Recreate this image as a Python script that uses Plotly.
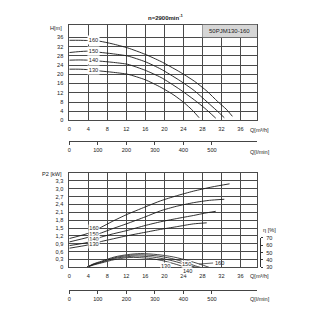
import plotly.graph_objects as go

# ---------------- data ----------------
impellers = ["160", "150", "140", "130"]

# H(Q) curves  (Q in m3/h, H in m)
h_q = {
    "160": [0, 2, 4, 6.4, 9, 12.3, 16, 19.3, 23, 26.3, 29, 31.2, 33, 34.3],
    "150": [0, 2, 4, 6.4, 9, 12.3, 16, 19.3, 23, 26.3, 29, 31, 32.6],
    "140": [0, 2, 4, 6.4, 9, 12.3, 16, 19.3, 23, 26.3, 28.5, 30.8],
    "130": [0, 2, 4, 6.6, 9, 12.3, 16, 19.3, 22, 24.2, 26, 27.3],
}
h_val = {
    "160": [34.7, 34.7, 34.6, 34.3, 33.2, 31.4, 28.6, 25.5, 21.3, 17.0, 12.6, 8.2, 4.9, 1.8],
    "150": [29.4, 29.8, 30.0, 29.5, 28.9, 27.9, 25.4, 22.2, 17.6, 12.9, 8.0, 4.3, 1.2],
    "140": [26.1, 26.2, 26.1, 25.7, 25.2, 24.3, 21.7, 18.6, 13.8, 8.9, 5.3, 1.0],
    "130": [22.2, 22.2, 22.0, 21.4, 20.9, 20.0, 17.6, 14.3, 11.0, 7.6, 4.2, 1.2],
}

# P2(Q) curves (kW)
p_q = {
    "160": [0, 3.8, 6.8, 9, 12, 16, 19.2, 22.5, 26.1, 30, 33.7],
    "150": [0, 3.8, 6.8, 9, 12, 16, 19.2, 22.5, 26.1, 29.5, 32.6],
    "140": [0, 3.8, 6.8, 9, 12, 16, 19.2, 22.5, 26.1, 28.5, 30.8],
    "130": [0, 3.8, 6.8, 9, 12, 16, 19.2, 22.5, 26.1, 28.9],
}
p_val = {
    "160": [1.10, 1.29, 1.54, 1.75, 2.01, 2.31, 2.54, 2.73, 2.91, 3.07, 3.19],
    "150": [0.97, 1.14, 1.32, 1.47, 1.66, 1.93, 2.16, 2.33, 2.47, 2.56, 2.60],
    "140": [0.83, 0.95, 1.16, 1.27, 1.40, 1.60, 1.74, 1.86, 1.98, 2.07, 2.14],
    "130": [0.73, 0.85, 0.99, 1.08, 1.20, 1.34, 1.45, 1.55, 1.66, 1.70],
}

# efficiency curves (%)
e_q = {
    "160": [3.7, 5, 6.8, 9.5, 12.3, 15, 18.5, 21.9, 25.4, 28.2, 29.6],
    "150": [3.7, 5, 6.8, 9.5, 12.3, 14.5, 18, 21.5, 24.5, 26.5, 27.8],
    "140": [3.7, 5, 6.8, 9.5, 12.3, 14, 17.5, 21, 24, 25.8, 27],
    "130": [3.7, 5, 6.8, 9.5, 12, 13.5, 17, 20, 22.5, 24, 25],
}
e_val = {
    "160": [30, 34.5, 38.4, 44.1, 47.3, 48.7, 47.3, 44.1, 38.4, 32.7, 29.5],
    "150": [30, 34, 37.5, 43, 46, 47, 45.8, 42, 36.5, 32, 29.5],
    "140": [30, 33.5, 36.8, 42, 44.5, 45.3, 44, 40, 34.8, 31.5, 29.5],
    "130": [30, 33, 36, 40.5, 43, 43.5, 42, 38.5, 34, 31, 29.5],
}

q_ticks = [0, 4, 8, 12, 16, 20, 24, 28, 32, 36]
h_ticks = [0, 4, 8, 12, 16, 20, 24, 28, 32, 36]
p_ticks = [0, 0.3, 0.6, 0.9, 1.2, 1.5, 1.8, 2.1, 2.4, 2.7, 3.0, 3.3]
p_ticktext = ["0", "0,3", "0,6", "0,9", "1,2", "1,5", "1,8", "2,1", "2,4", "2,7", "3,0", "3,3"]
lmin_ticks = [0, 100, 200, 300, 400, 500]
eta_ticks = [30, 40, 50, 60, 70]

# label positions
h_lab_pos = {"160": (5.0, 34.7), "150": (5.0, 30.0), "140": (5.0, 26.1), "130": (5.1, 21.9)}
p_lab_pos = {"160": (5.2, 1.50), "150": (5.2, 1.26), "140": (5.2, 1.05), "130": (5.2, 0.86)}
e_lab_px = {"130": (165, 268.0), "150": (186.0, 266.3), "140": (186.5, 273.3)}

Q_MAX = 39.5
H_MAX = 41.5
P_MIN, P_MAX = 0.0, 3.6
ETA_PER_KW = 35.55
E_MIN = 30 + P_MIN * ETA_PER_KW
E_MAX = 30 + P_MAX * ETA_PER_KW

W = H = 325
def px(v):
    return v / W
def py(v):
    return 1 - v / H

XDOM = [px(67.7), px(256.7)]
TOP_DOM = [py(119.7), py(22.0)]
BOT_DOM = [py(269.3), py(173.3)]

FONT = "Liberation Sans, Arial, sans-serif"
FS = 5.6
GRID = "#4a4a4a"
CURVE = "#1a1a1a"
TXT = "#222"

fig = go.Figure()

for k in impellers:
    fig.add_trace(go.Scatter(x=h_q[k], y=h_val[k], mode="lines", line=dict(color=CURVE, width=0.9, shape="spline", smoothing=0.6),
                             xaxis="x", yaxis="y", showlegend=False, hoverinfo="skip"))
    fig.add_trace(go.Scatter(x=p_q[k], y=p_val[k], mode="lines", line=dict(color=CURVE, width=0.9, shape="spline", smoothing=0.6),
                             xaxis="x2", yaxis="y2", showlegend=False, hoverinfo="skip"))
for k in impellers:
    fig.add_trace(go.Scatter(x=e_q[k], y=e_val[k], mode="lines", line=dict(color=CURVE, width=0.8, shape="spline", smoothing=0.8),
                             xaxis="x2", yaxis="y3", showlegend=False, hoverinfo="skip"))

# invisible traces to carry the auxiliary axes
lmin_max = Q_MAX * 1000 / 60
fig.add_trace(go.Scatter(x=[0, lmin_max], y=[0, 0], mode="markers", marker=dict(opacity=0), xaxis="x3", yaxis="y",
                         showlegend=False, hoverinfo="skip"))
fig.add_trace(go.Scatter(x=[0, lmin_max], y=[0, 0], mode="markers", marker=dict(opacity=0), xaxis="x4", yaxis="y2",
                         showlegend=False, hoverinfo="skip"))
fig.add_trace(go.Scatter(x=[1, 1], y=[eta_ticks[0], eta_ticks[-1]], mode="markers", marker=dict(opacity=0), xaxis="x2", yaxis="y4",
                         showlegend=False, hoverinfo="skip"))

tickfont = dict(family=FONT, size=FS, color=TXT)
common_x = dict(range=[0, Q_MAX], domain=XDOM, tickvals=q_ticks, showgrid=True, gridcolor=GRID, gridwidth=0.8,
                showline=True, linecolor=GRID, linewidth=0.8, mirror=True, zeroline=False, ticks="",
                tickfont=tickfont, ticklabelstandoff=3)
common_y = dict(showgrid=True, gridcolor=GRID, gridwidth=0.8, showline=True, linecolor=GRID, linewidth=0.8,
                mirror=True, zeroline=False, ticks="", tickfont=tickfont, ticklabelstandoff=4)

fig.update_layout(
    width=W, height=H, margin=dict(l=0, r=0, t=0, b=0),
    paper_bgcolor="white", plot_bgcolor="rgba(0,0,0,0)",
    font=dict(family=FONT, size=FS, color=TXT),
    xaxis=dict(common_x, anchor="y"),
    yaxis=dict(common_y, domain=TOP_DOM, range=[0, H_MAX], tickvals=h_ticks, anchor="x"),
    xaxis2=dict(common_x, anchor="y2"),
    yaxis2=dict(common_y, domain=BOT_DOM, range=[P_MIN, P_MAX], tickvals=p_ticks, ticktext=p_ticktext, anchor="x2"),
    yaxis3=dict(overlaying="y2", anchor="x2", side="right", range=[E_MIN, E_MAX], showticklabels=False,
                showgrid=False, showline=False, zeroline=False, ticks=""),
    yaxis4=dict(domain=[py(269.3), py(239.3)], range=[eta_ticks[0], eta_ticks[-1]], anchor="free", position=px(259.3),
                side="right", tickvals=eta_ticks, ticks="outside", ticklen=2.5, tickcolor="#333", tickwidth=0.8,
                showline=True, linecolor="#333", linewidth=0.8, showgrid=False, zeroline=False,
                tickfont=tickfont, ticklabelstandoff=2),
    xaxis3=dict(overlaying="x", range=[0, lmin_max], anchor="free", position=py(140.7), tickvals=lmin_ticks,
                ticks="outside", ticklen=3, tickcolor="#444", tickwidth=0.8, showline=True, linecolor="#444",
                linewidth=0.8, showgrid=False, zeroline=False, tickfont=tickfont, side="bottom"),
    xaxis4=dict(overlaying="x2", range=[0, lmin_max], anchor="free", position=py(292.3), tickvals=lmin_ticks,
                ticks="outside", ticklen=3, tickcolor="#444", tickwidth=0.8, showline=True, linecolor="#444",
                linewidth=0.8, showgrid=False, zeroline=False, tickfont=tickfont, side="bottom"),
)

# gray model box
fig.add_shape(type="rect", xref="x", yref="y", x0=28, x1=Q_MAX, y0=36, y1=H_MAX,
              fillcolor="#d6d6d6", line=dict(width=0), layer="above")

ann = []
ann.append(dict(text="<b>n=2900min<sup>-1</sup></b>", x=px(165), y=py(14), xref="paper", yref="paper",
                xanchor="center", yanchor="middle", showarrow=False, font=dict(family=FONT, size=6, color=TXT)))
ann.append(dict(text="50PJM130-160", x=(28 + Q_MAX) / 2, y=(36 + H_MAX) / 2, xref="x", yref="y",
                xanchor="center", yanchor="middle", showarrow=False, font=dict(family=FONT, size=6, color=TXT)))
axis_titles = [("H[m]", 62, 25, "right"), ("P2 [kW]", 62, 174, "right"),
               ("Q[m³/h]", 247.5, 129, "left"), ("Q[l/min]", 247.5, 152.3, "left"),
               ("Q[m³/h]", 247.5, 278, "left"), ("Q[l/min]", 247.5, 301.3, "left"),
               ("η [%]", 260.5, 231, "left")]
for t, xx, yy, anc in axis_titles:
    ann.append(dict(text=t, x=px(xx), y=py(yy), xref="paper", yref="paper", xanchor=anc, yanchor="middle",
                    showarrow=False, font=dict(family=FONT, size=FS, color=TXT)))
for k in impellers:
    qx, hy = h_lab_pos[k]
    ann.append(dict(text=k, x=qx, y=hy, xref="x", yref="y", showarrow=False, bgcolor="white", borderpad=0.8,
                    xanchor="center", yanchor="middle", font=dict(family=FONT, size=FS, color=TXT)))
    qx, pv = p_lab_pos[k]
    ann.append(dict(text=k, x=qx, y=pv, xref="x2", yref="y2", showarrow=False, bgcolor="white", borderpad=0.3,
                    xanchor="center", yanchor="middle", font=dict(family=FONT, size=FS, color=TXT)))
for k, (xx, yy) in e_lab_px.items():
    ann.append(dict(text=k, x=px(xx), y=py(yy), xref="paper", yref="paper", showarrow=False,
                    bgcolor="white", borderpad=0,
                    xanchor="center", yanchor="middle", font=dict(family=FONT, size=FS, color=TXT)))
ann.append(dict(text="160", x=27.3, y=34.5, xref="x2", yref="y3", showarrow=True, arrowhead=0, arrowwidth=0.7,
                arrowcolor=TXT, ax=14, ay=-1, xanchor="left", yanchor="middle", font=dict(family=FONT, size=FS, color=TXT)))
fig.update_layout(annotations=ann)

fig.write_html("out.html")
